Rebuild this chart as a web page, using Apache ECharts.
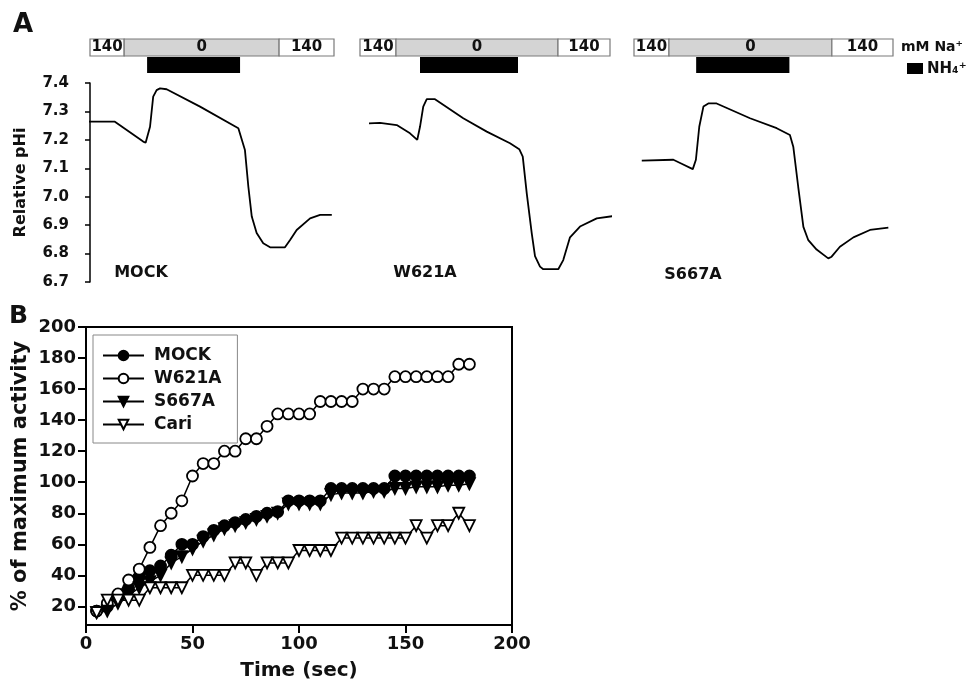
<!DOCTYPE html>
<html>
<head>
<meta charset="utf-8">
<script src="https://cdn.jsdelivr.net/npm/echarts@6/dist/echarts.min.js"></script>
<style>
  html, body { margin: 0; padding: 0; background: #fff; }
  #chart { width: 968px; height: 686px; }
</style>
</head>
<body>
<div id="chart"></div>
<script>
// ---- Panel A: pHi traces (time in % of the perfusion protocol, pH units) ----
const traceMock = [[-1.2, 7.264], [10.2, 7.264], [21.8, 7.194], [22.8, 7.19], [24.6, 7.246], [25.9, 7.352],
    [27.3, 7.375], [28.7, 7.381], [31.4, 7.378], [45.1, 7.317], [60.8, 7.241], [61.5, 7.235], [63.5, 7.164],
    [64.9, 7.035], [66.3, 6.93], [68.3, 6.872], [71.0, 6.836], [73.8, 6.822], [79.9, 6.822], [82.0, 6.848],
    [84.7, 6.883], [90.2, 6.924], [94.3, 6.936], [99.1, 6.936]];
const traceW621A = [[3.6, 7.258], [8.0, 7.26], [14.7, 7.252], [20.0, 7.223], [22.9, 7.2], [24.0, 7.246],
    [25.3, 7.317], [26.7, 7.343], [30.0, 7.343], [41.3, 7.276], [50.7, 7.229], [60.0, 7.188], [63.7, 7.167],
    [65.1, 7.141], [66.7, 7.012], [68.7, 6.871], [70.0, 6.791], [72.0, 6.754], [73.3, 6.745], [79.3, 6.745],
    [81.3, 6.777], [84.0, 6.857], [88.0, 6.895], [94.7, 6.924], [101.3, 6.932]];
const traceS667A = [[3.0, 7.127], [15.2, 7.13], [18.4, 7.116], [22.7, 7.097], [23.9, 7.13], [25.2, 7.246],
    [26.8, 7.317], [28.7, 7.328], [31.9, 7.328], [44.8, 7.276], [55.1, 7.241], [60.2, 7.217], [61.5, 7.176],
    [63.4, 7.035], [65.4, 6.894], [67.3, 6.847], [70.5, 6.814], [75.0, 6.783], [76.3, 6.789], [79.5, 6.824],
    [84.7, 6.857], [91.1, 6.883], [98.2, 6.891]];

// Na+ steps: [start, end, mM Na+]
const naMock = [[0, 14, 140], [14, 77.5, 0], [77.5, 100, 140]];
const naW621A = [[0, 14.4, 140], [14.4, 79.2, 0], [79.2, 100, 140]];
const naS667A = [[0, 13.5, 140], [13.5, 76.4, 0], [76.4, 100, 140]];
// NH4+ pulse: [start, end]
const nh4Mock = [[23.4, 61.5]];
const nh4W621A = [[24, 63.2]];
const nh4S667A = [[24, 60]];

const phTicks = [6.7, 7.4];

// ---- Panel B: % of maximum activity ----
const timeSec = [5, 10, 15, 20, 25, 30, 35, 40, 45, 50, 55, 60, 65, 70, 75, 80, 85, 90,
    95, 100, 105, 110, 115, 120, 125, 130, 135, 140, 145, 150, 155, 160, 165, 170, 175, 180];
const mockActivity = [17, 20, 26, 32, 39, 43, 46, 53, 60, 60, 65, 69, 72, 74, 76, 78, 80, 81,
    88, 88, 88, 88, 96, 96, 96, 96, 96, 96, 104, 104, 104, 104, 104, 104, 104, 104];
const w621aActivity = [17, 22, 28, 37, 44, 58, 72, 80, 88, 104, 112, 112, 120, 120, 128, 128, 136, 144,
    144, 144, 144, 152, 152, 152, 152, 160, 160, 160, 168, 168, 168, 168, 168, 168, 176, 176];
const s667aActivity = [16, 17, 22, 27, 32, 36, 40, 48, 52, 57, 62, 66, 70, 72, 74, 76, 78, 80,
    86, 86, 86, 86, 92, 93, 93, 93, 94, 94, 96, 96, 97, 97, 97, 98, 98, 99];
const cariActivity = [16, 24, 24, 24, 24, 32, 32, 32, 32, 40, 40, 40, 40, 48, 48, 40, 48, 48,
    48, 56, 56, 56, 56, 64, 64, 64, 64, 64, 64, 64, 72, 64, 72, 72, 80, 72];
const activityTicks = [20, 40, 60, 80, 100, 120, 140, 160, 180, 200];
const timeTicks = [0, 50, 100, 150, 200];

const FONT = '"DejaVu Sans", sans-serif';

/**
 * 把时间和数值配对
 */
function pair(xs, ys) {
    return xs.map((x, i) => [x, ys[i]]);
}

/**
 * Na+ 灌流条
 */
function renderNa(params, api) {
    const p0 = api.coord([api.value(0), 2]);
    const p1 = api.coord([api.value(1), 1]);
    const level = api.value(2);
    return {
        type: 'rect',
        shape: { x: p0[0], y: p0[1], width: p1[0] - p0[0], height: p1[1] - p0[1] },
        style: { fill: level === 0 ? '#d4d4d4' : '#fff', stroke: '#7a7a7a', lineWidth: 1.2 },
        textContent: {
            style: { text: String(level), font: 'bold 15px ' + FONT, fill: '#111' }
        },
        textConfig: { position: 'inside' }
    };
}

/**
 * NH4+ 脉冲条
 */
function renderNh4(params, api) {
    const p0 = api.coord([api.value(0), 1]);
    const p1 = api.coord([api.value(1), 0]);
    return {
        type: 'rect',
        shape: { x: p0[0], y: p0[1] + 1, width: p1[0] - p0[0], height: p1[1] - p0[1] - 1 },
        style: { fill: '#000' }
    };
}

const panels = [
    { trace: traceMock, na: naMock, nh4: nh4Mock, left: 90, width: 244 },
    { trace: traceW621A, na: naW621A, nh4: nh4W621A, left: 360, width: 250 },
    { trace: traceS667A, na: naS667A, nh4: nh4S667A, left: 634, width: 259 }
];

const grid = [];
const xAxis = [];
const yAxis = [];
const series = [];

panels.forEach((p, i) => {
    // trace grid
    grid.push({ left: p.left, top: 83, width: p.width, height: 199 });
    xAxis.push({ gridIndex: grid.length - 1, type: 'value', min: 0, max: 100, show: false });
    yAxis.push({
        gridIndex: grid.length - 1,
        type: 'value',
        min: phTicks[0],
        max: phTicks[1],
        interval: 0.1,
        show: i === 0,
        offset: 3,
        name: 'Relative pHi',
        nameLocation: 'middle',
        nameGap: 58,
        nameTextStyle: { fontFamily: FONT, fontWeight: 'bold', fontSize: 16, color: '#111' },
        axisLine: { show: true, lineStyle: { color: '#000', width: 1.5 } },
        axisTick: { show: true, inside: false, length: 5, lineStyle: { color: '#000', width: 1.5 } },
        axisLabel: {
            margin: 18, fontFamily: FONT, fontWeight: 'bold', fontSize: 15, color: '#111',
            formatter: (v) => v.toFixed(1)
        },
        splitLine: { show: false }
    });
    series.push({
        type: 'line',
        xAxisIndex: xAxis.length - 1,
        yAxisIndex: yAxis.length - 1,
        data: p.trace,
        showSymbol: false,
        clip: false,
        silent: true,
        lineStyle: { color: '#000', width: 1.8 }
    });

    // perfusion bar grid
    grid.push({ left: p.left, top: 39, width: p.width, height: 34 });
    xAxis.push({ gridIndex: grid.length - 1, type: 'value', min: 0, max: 100, show: false });
    yAxis.push({ gridIndex: grid.length - 1, type: 'value', min: 0, max: 2, show: false });
    series.push({
        type: 'custom',
        xAxisIndex: xAxis.length - 1,
        yAxisIndex: yAxis.length - 1,
        renderItem: renderNa,
        encode: { x: [0, 1] },
        silent: true,
        data: p.na
    });
    series.push({
        type: 'custom',
        xAxisIndex: xAxis.length - 1,
        yAxisIndex: yAxis.length - 1,
        renderItem: renderNh4,
        encode: { x: [0, 1] },
        silent: true,
        data: p.nh4
    });
});

// Panel B grid
grid.push({ left: 86, top: 327, width: 426, height: 298, show: true, borderColor: '#000', borderWidth: 2 });
xAxis.push({
    gridIndex: grid.length - 1,
    type: 'value',
    min: timeTicks[0],
    max: timeTicks[timeTicks.length - 1],
    interval: 50,
    name: 'Time (sec)',
    nameLocation: 'middle',
    nameGap: 36,
    nameTextStyle: { fontFamily: FONT, fontWeight: 'bold', fontSize: 20, color: '#111' },
    axisLine: { lineStyle: { color: '#000', width: 2 } },
    axisTick: { length: 8, lineStyle: { color: '#000', width: 2 } },
    axisLabel: { margin: 10, fontFamily: FONT, fontWeight: 'bold', fontSize: 18, color: '#111' },
    splitLine: { show: false }
});
yAxis.push({
    gridIndex: grid.length - 1,
    type: 'value',
    min: 8,
    max: 200,
    name: '% of maximum activity',
    nameLocation: 'middle',
    nameGap: 55,
    nameTextStyle: { fontFamily: FONT, fontWeight: 'bold', fontSize: 21, color: '#111' },
    axisLine: { show: true, lineStyle: { color: '#000', width: 2 } },
    axisTick: { show: true, length: 8, customValues: activityTicks, lineStyle: { color: '#000', width: 2 } },
    axisLabel: {
        margin: 10, customValues: activityTicks,
        fontFamily: FONT, fontWeight: 'bold', fontSize: 18, color: '#111'
    },
    splitLine: { show: false }
});

const bX = xAxis.length - 1;
const bY = yAxis.length - 1;
const activitySeries = [
    { name: 'MOCK', data: mockActivity, symbol: 'circle', rotate: 0, fill: '#000' },
    { name: 'W621A', data: w621aActivity, symbol: 'circle', rotate: 0, fill: '#fff' },
    { name: 'S667A', data: s667aActivity, symbol: 'triangle', rotate: 180, fill: '#000' },
    { name: 'Cari', data: cariActivity, symbol: 'triangle', rotate: 180, fill: '#fff' }
];
activitySeries.forEach((s) => {
    series.push({
        type: 'line',
        name: s.name,
        xAxisIndex: bX,
        yAxisIndex: bY,
        data: pair(timeSec, s.data),
        symbol: s.symbol,
        symbolRotate: s.rotate,
        symbolSize: 11,
        showAllSymbol: true,
        lineStyle: { color: '#000', width: 1.5 },
        itemStyle: { color: s.fill, borderColor: '#000', borderWidth: 1.8 }
    });
});

const option = {
    backgroundColor: '#fff',
    animation: false,
    grid: grid,
    xAxis: xAxis,
    yAxis: yAxis,
    series: series,
    legend: {
        data: activitySeries.map((s) => s.name),
        orient: 'vertical',
        left: 93,
        top: 335,
        padding: [12, 16, 10, 9],
        itemGap: 6,
        itemWidth: 41,
        itemHeight: 12,
        borderColor: '#888',
        borderWidth: 1,
        selectedMode: false,
        textStyle: { fontFamily: FONT, fontWeight: 'bold', fontSize: 17, color: '#111', lineHeight: 15, padding: [0, 0, 0, 5] }
    },
    graphic: [
        { type: 'text', left: 13, top: 12, style: { text: 'A', font: 'bold 26px ' + FONT, fill: '#111' } },
        { type: 'text', left: 9, top: 304, style: { text: 'B', font: 'bold 25px ' + FONT, fill: '#111' } },
        { type: 'text', x: 141, y: 273, style: { text: 'MOCK', font: 'bold 16px ' + FONT, fill: '#111', align: 'center', verticalAlign: 'middle' } },
        { type: 'text', x: 425, y: 273, style: { text: 'W621A', font: 'bold 16px ' + FONT, fill: '#111', align: 'center', verticalAlign: 'middle' } },
        { type: 'text', x: 693, y: 275, style: { text: 'S667A', font: 'bold 16px ' + FONT, fill: '#111', align: 'center', verticalAlign: 'middle' } },
        { type: 'text', x: 901, y: 47, style: { text: 'mM Na\u207A', font: 'bold 14px ' + FONT, fill: '#111', verticalAlign: 'middle' } },
        { type: 'rect', shape: { x: 907, y: 63, width: 16, height: 11 }, style: { fill: '#000' } },
        { type: 'text', x: 927, y: 69, style: { text: 'NH\u2084\u207A', font: 'bold 15px ' + FONT, fill: '#111', verticalAlign: 'middle' } }
    ]
};

const chart = echarts.init(document.getElementById('chart'));
chart.setOption(option);
</script>
</body>
</html>
